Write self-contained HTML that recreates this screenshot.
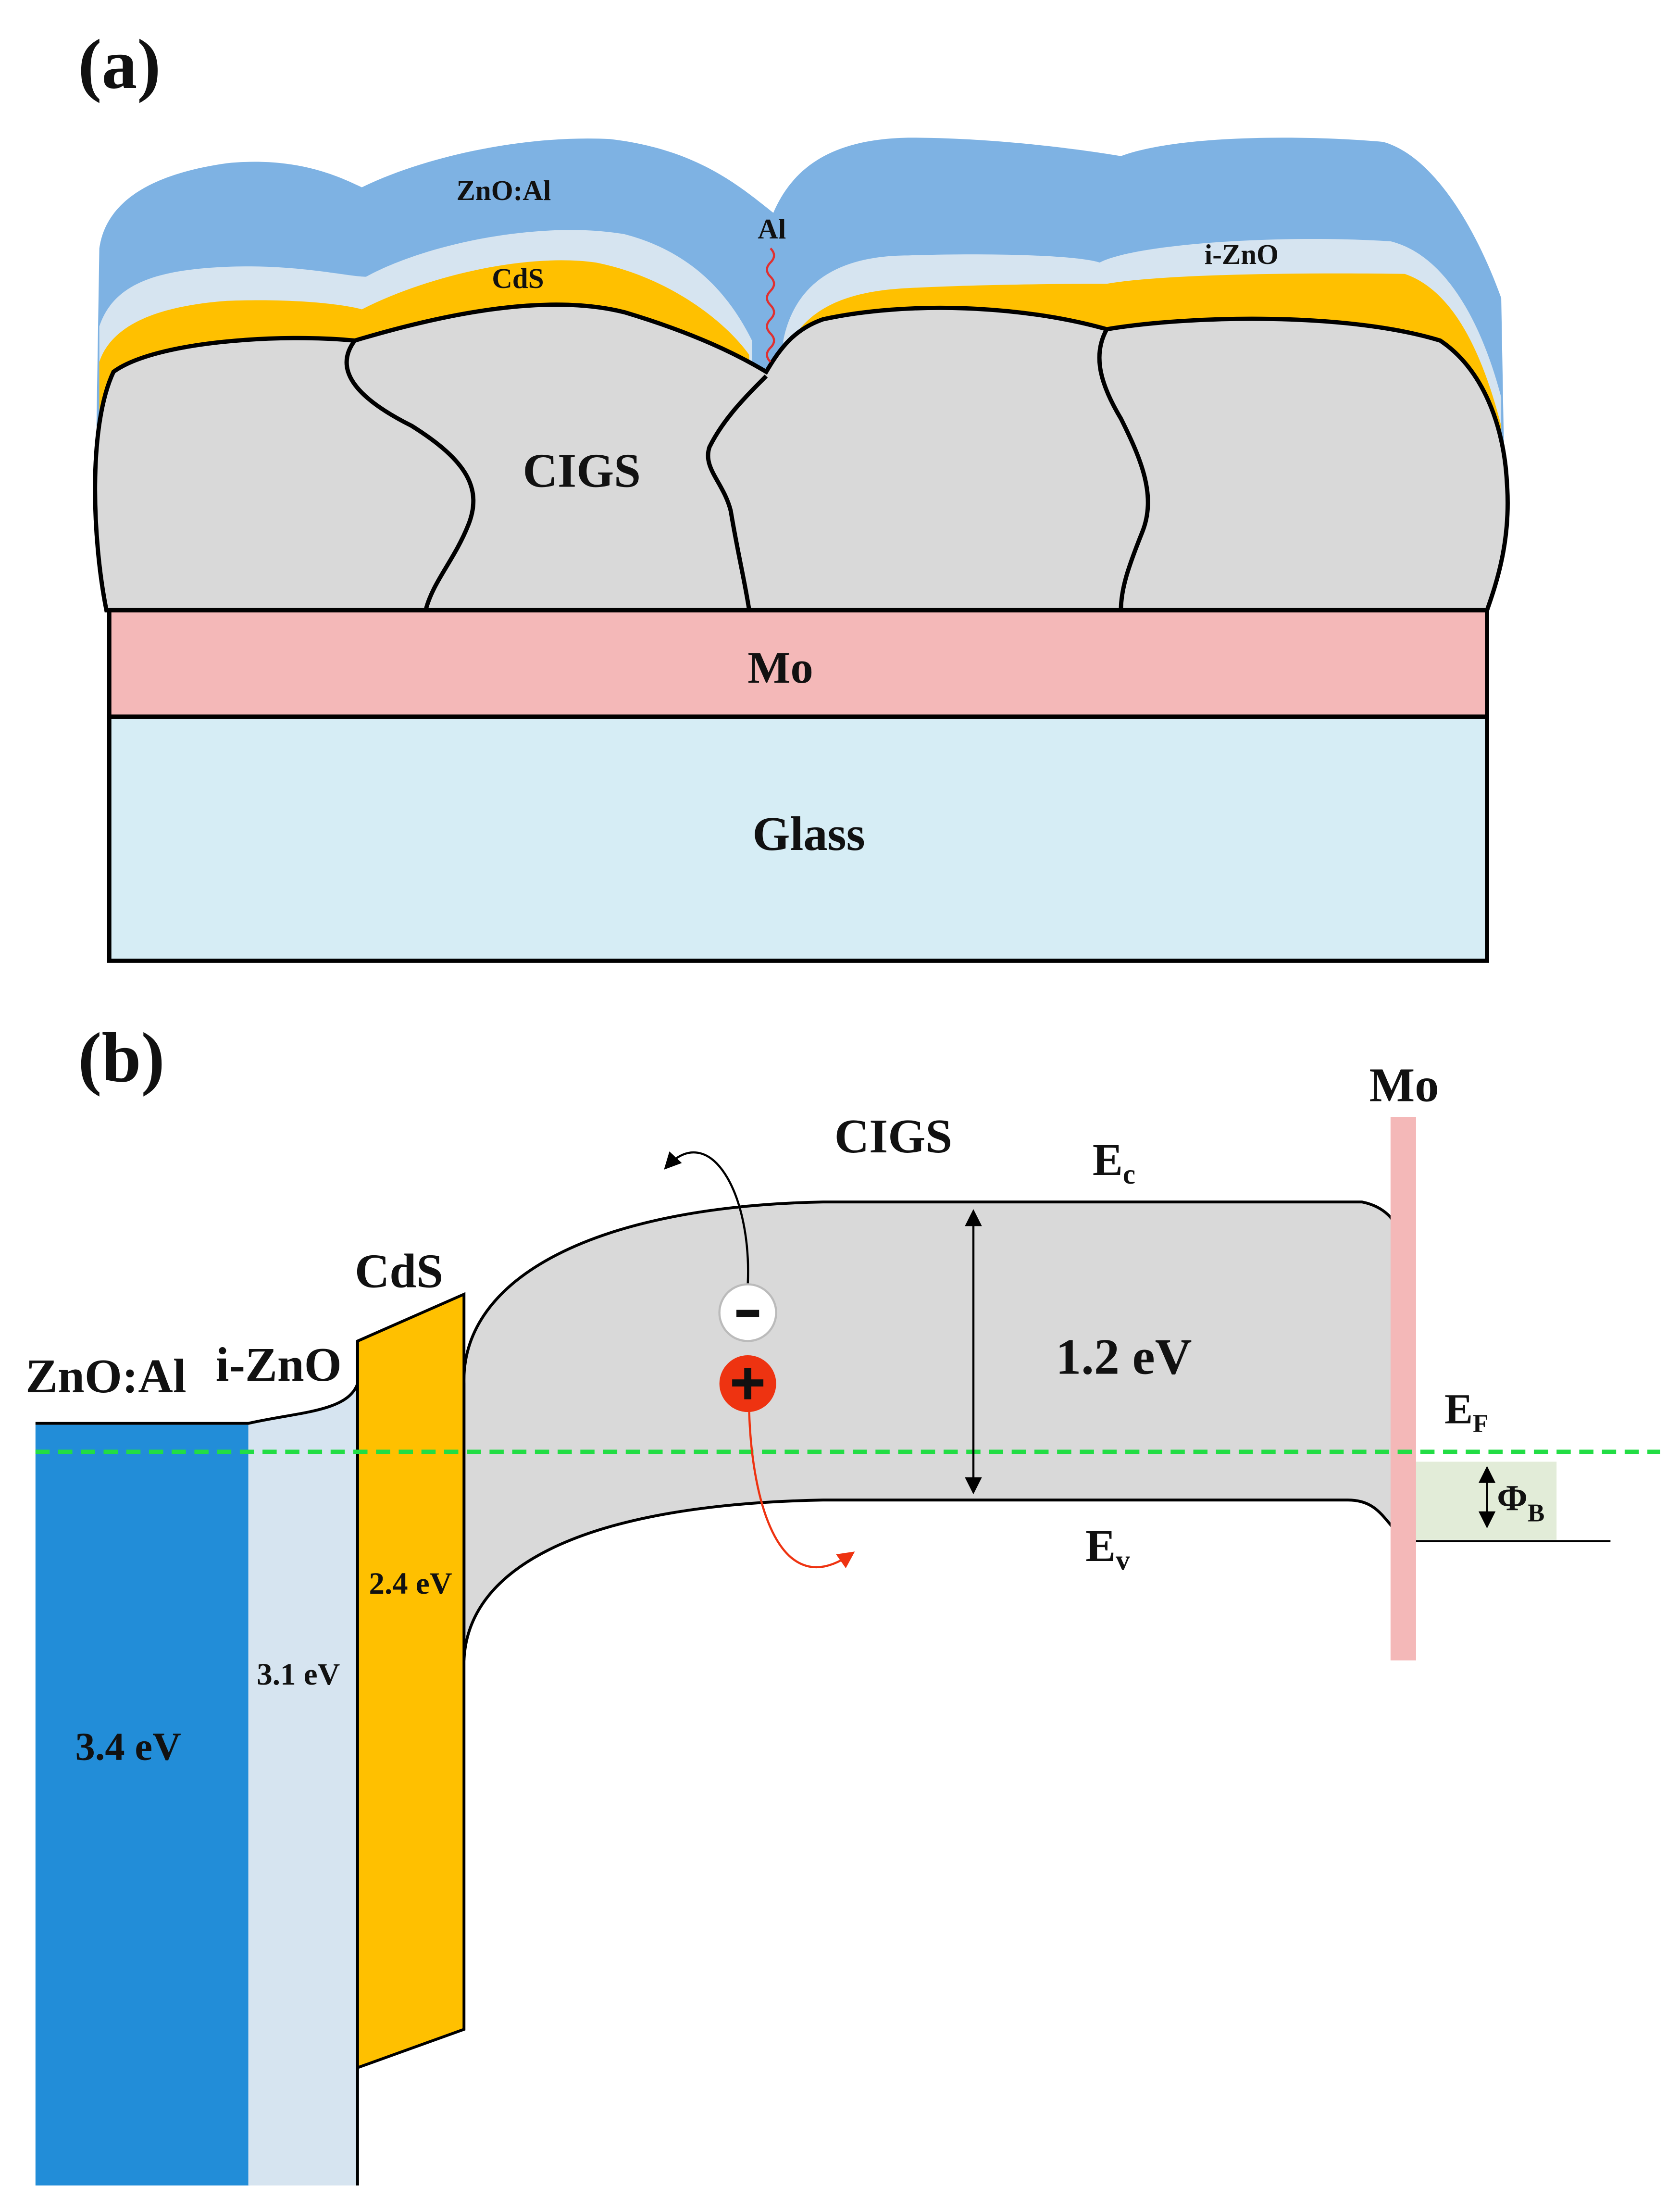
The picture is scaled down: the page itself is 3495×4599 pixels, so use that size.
<!DOCTYPE html>
<html><head><meta charset="utf-8"><style>
html,body{margin:0;padding:0;background:#fff}
svg{display:block}
text{font-family:"Liberation Serif",serif;font-weight:bold;fill:#111}
</style></head><body>
<svg width="3495" height="4599" viewBox="0 0 1184 1558" xmlns="http://www.w3.org/2000/svg">
<defs>
<marker id="ah" markerWidth="8" markerHeight="8" refX="6" refY="4" orient="auto"><path d="M0,0 L8,4 L0,8 Z" fill="#000"/></marker>
<marker id="ahr" markerWidth="8" markerHeight="8" refX="6" refY="4" orient="auto"><path d="M0,0 L8,4 L0,8 Z" fill="#ee3311"/></marker>
<marker id="as" markerWidth="8" markerHeight="8" refX="6" refY="4" orient="auto-start-reverse"><path d="M0,0 L8,4 L0,8 Z" fill="#000"/></marker>
</defs>
<rect width="1184" height="1558" fill="#fff"/>
<!-- Panel a -->
<text x="55" y="62" font-size="50">(a)</text>
<path d="M68,300 L70,175 C75,140 110,122 160,115 C210,110 240,125 255,132 C300,110 370,95 430,98 C490,105 520,130 545,150 C560,115 590,98 640,97 C700,97 760,105 790,110 C830,95 920,95 975,100 C1010,110 1040,160 1058,210 L1060,320 Z" fill="#7eb2e3"/>
<path d="M70,230 C80,200 110,190 160,188 C210,186 245,195 258,195 C300,172 380,155 440,165 C490,178 515,210 530,240 L530,300 L70,300Z" fill="#d6e4f0"/>
<path d="M552,240 C560,200 590,180 640,180 C700,178 760,180 775,185 C800,172 900,165 980,170 C1020,180 1045,230 1058,280 L1058,320 L552,320Z" fill="#d6e4f0"/>
<path d="M70,255 C80,225 120,215 160,212 C210,210 245,215 255,218 C300,195 370,178 420,185 C470,195 510,225 528,250 L528,300 L70,300Z" fill="#ffc000"/>
<path d="M555,245 C570,215 600,205 640,203 C700,200 760,200 780,200 C820,193 920,192 990,193 C1025,205 1045,250 1058,300 L1058,330 L555,330Z" fill="#ffc000"/>
<path d="M75,430 C65,380 62,300 80,262 C110,240 200,235 250,240 C300,225 380,205 440,220 C490,235 520,250 540,262 C550,245 560,232 580,225 C640,212 720,215 780,232 C840,222 950,220 1015,240 C1045,260 1060,300 1062,340 C1065,380 1055,410 1048,430 Z" fill="#d9d9d9" stroke="#000" stroke-width="3"/>
<path d="M250,240 C235,260 250,280 290,300 C330,325 340,345 330,370 C320,395 305,410 300,430" fill="none" stroke="#000" stroke-width="3"/>
<path d="M540,265 C525,280 510,295 500,315 C495,330 510,340 515,360 C520,390 525,410 528,430" fill="none" stroke="#000" stroke-width="3"/>
<path d="M780,232 C770,250 775,270 790,295 C805,325 815,350 805,375 C795,400 790,415 790,430" fill="none" stroke="#000" stroke-width="3"/>
<path d="M543,175 q5,5 0,10 q-5,5 0,10 q5,5 0,10 q-5,5 0,10 q5,5 0,10 q-5,5 0,10 q5,5 0,10 q-5,5 0,10" fill="none" stroke="#e03030" stroke-width="1.5"/>
<rect x="77" y="505" width="971" height="172" fill="#d6edf5" stroke="#000" stroke-width="3"/>
<rect x="77" y="430" width="971" height="75" fill="#f4b8b8" stroke="#000" stroke-width="3"/>
<text x="355" y="141" font-size="20" text-anchor="middle">ZnO:Al</text>
<text x="365" y="203" font-size="20" text-anchor="middle">CdS</text>
<text x="544" y="168" font-size="20" text-anchor="middle">Al</text>
<text x="875" y="186" font-size="20" text-anchor="middle">i-ZnO</text>
<text x="410" y="343" font-size="34" text-anchor="middle">CIGS</text>
<text x="550" y="481" font-size="32" text-anchor="middle">Mo</text>
<text x="570" y="599" font-size="34" text-anchor="middle">Glass</text>
<!-- Panel b -->
<text x="55" y="762" font-size="50">(b)</text>
<rect x="25" y="1004" width="151" height="536" fill="#228dd8"/>
<path d="M175,1003 C210,995 245,995 252,975 L252,1540 L175,1540 Z" fill="#d6e4f0"/>
<path d="M25,1003 L175,1003 C210,995 245,995 252,975 L252,945" fill="none" stroke="#000" stroke-width="2"/>
<line x1="252" y1="1457" x2="252" y2="1540" stroke="#000" stroke-width="2"/>
<path d="M327,975 C325,900 420,850 580,847 L960,847 C975,850 985,860 985,870 L985,1080 C975,1070 970,1057 950,1057 L580,1057 C420,1060 330,1100 327,1170 Z" fill="#d9d9d9" stroke="#000" stroke-width="2"/>
<polygon points="252,945 327,912 327,1430 252,1457" fill="#ffc000" stroke="#000" stroke-width="2"/>
<rect x="980" y="787" width="18" height="383" fill="#f4b8b8"/>
<rect x="998" y="1030" width="99" height="55" fill="#e2ecd8"/>
<line x1="998" y1="1086" x2="1135" y2="1086" stroke="#000" stroke-width="1.5"/>
<line x1="25" y1="1023" x2="1170" y2="1023" stroke="#22dd44" stroke-width="3" stroke-dasharray="10,6"/>
<line x1="1048" y1="1036" x2="1048" y2="1074" stroke="#000" stroke-width="1.5" marker-start="url(#as)" marker-end="url(#as)"/>
<line x1="686" y1="855" x2="686" y2="1050" stroke="#000" stroke-width="1.5" marker-start="url(#as)" marker-end="url(#as)"/>
<path d="M527,905 C530,840 500,790 470,822" fill="none" stroke="#000" stroke-width="1.5" marker-end="url(#ah)"/>
<path d="M528,995 C530,1060 550,1130 600,1095" fill="none" stroke="#ee3311" stroke-width="1.5" marker-end="url(#ahr)"/>
<circle cx="527" cy="925" r="20" fill="#fff" stroke="#bbb" stroke-width="1.5"/>
<rect x="519" y="923" width="16" height="5" fill="#111"/>
<circle cx="527" cy="975" r="20" fill="#ee3311"/>
<rect x="516" y="972" width="22" height="5" fill="#111"/><rect x="524.5" y="964" width="5" height="22" fill="#111"/>
<text x="18" y="981" font-size="34">ZnO:Al</text>
<text x="152" y="973" font-size="34">i-ZnO</text>
<text x="250" y="907" font-size="34">CdS</text>
<text x="588" y="812" font-size="34">CIGS</text>
<text x="770" y="828" font-size="32">E<tspan font-size="20" dy="6">c</tspan></text>
<text x="744" y="968" font-size="36">1.2 eV</text>
<text x="765" y="1100" font-size="32">E<tspan font-size="20" dy="6">v</tspan></text>
<text x="965" y="776" font-size="34">Mo</text>
<text x="1018" y="1003" font-size="30">E<tspan font-size="18" dy="6">F</tspan></text>
<text x="1055" y="1064" font-size="26" font-weight="normal">Φ<tspan font-size="18" dy="8">B</tspan></text>
<text x="53" y="1240" font-size="28">3.4 eV</text>
<text x="181" y="1187" font-size="22">3.1 eV</text>
<text x="260" y="1123" font-size="22">2.4 eV</text>
</svg>
</body></html>
